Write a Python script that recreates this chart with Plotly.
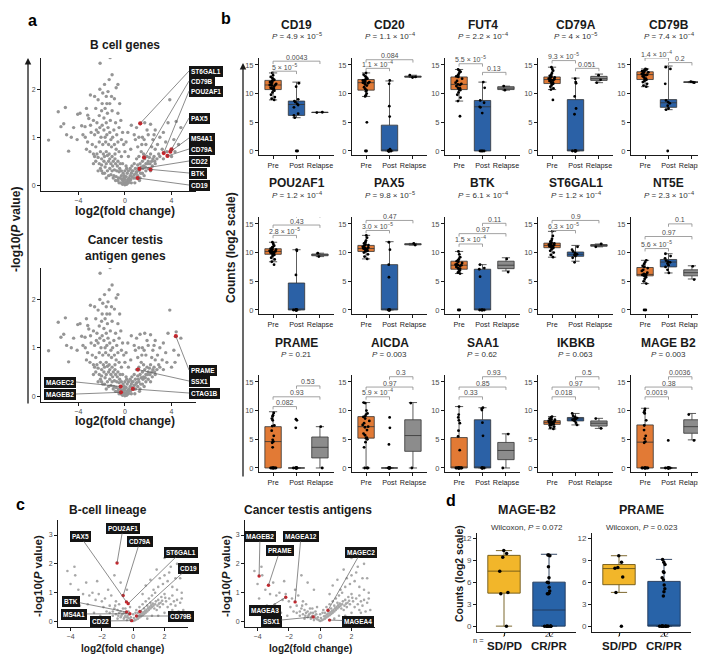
import plotly.graph_objects as go

W, H = 706, 655
FONT = "Liberation Sans, Arial, sans-serif"

# ---------------- panel a / c : volcano data (log2 fold change, -log10 P) ----------------
a_bg = [(-6.55, 0.94), (-5.72, 1.53), (-5.11, 1.62), (-5.49, 1.22), (-5.25, 1.28), (-4.83, 0.71),
        (-4.05, 1.48), (-3.19, 1.46), (-3.1, 1.39), (-3.71, 1.24), (-3.42, 1.22), (-3.6, 1.05),
        (-3.4, 1.0), (-2.13, 2.54), (-1.27, 2.66), (-1.1, 2.3), (-0.75, 2.03), (-1.9, 1.92),
        (-2.96, 1.88), (-1.6, 1.85), (-2.3, 1.78), (-1.45, 1.95), (-2.0, 1.55), (-2.5, 1.6),
        (-1.7, 1.6), (-1.3, 1.7), (-0.9, 1.8), (-2.2, 1.45), (-1.8, 1.4), (-1.5, 1.5), (-1.1, 1.55),
        (-2.7, 1.35), (-2.4, 1.3), (-1.95, 1.25), (-1.6, 1.3), (-1.25, 1.35), (-0.8, 1.3), (-0.6, 1.5),
        (-2.9, 1.1), (-2.6, 1.05), (-2.3, 1.1), (-2.05, 1.0), (-1.8, 1.15), (-1.55, 1.05), (-1.3, 1.1),
        (-1.05, 1.0), (-0.7, 1.05), (-2.8, 0.85), (-2.5, 0.8), (-2.2, 0.9), (-1.9, 0.85), (-1.65, 0.9),
        (-1.4, 0.85), (-1.15, 0.8), (-0.9, 0.85), (-0.6, 0.9), (-2.4, 0.65), (-2.1, 0.7), (-1.85, 0.65),
        (-1.6, 0.7), (-1.35, 0.65), (-1.1, 0.6), (-0.85, 0.65), (-0.5, 0.7), (-2.5, 0.5), (-2.2, 0.45),
        (-2.0, 0.55), (-1.8, 0.5), (-1.6, 0.45), (-1.4, 0.5), (-1.2, 0.45), (-1.0, 0.5), (-0.8, 0.45),
        (-0.6, 0.5), (-0.4, 0.45), (-2.1, 0.35), (-1.7, 0.38), (-1.5, 0.3), (-1.3, 0.35), (-1.1, 0.3),
        (-0.9, 0.32), (-0.7, 0.3), (-0.5, 0.28), (-0.3, 0.3), (-1.9, 0.25), (-1.2, 0.22), (-0.95, 0.2),
        (-0.75, 0.18), (-0.55, 0.15), (-0.4, 0.15), (-0.25, 0.12), (-0.15, 0.08), (-0.05, 0.05),
        (-0.6, 0.1), (-0.35, 0.05), (-0.2, 0.02), (0.0, 0.01), (0.05, 0.03), (0.1, 0.06), (0.15, 0.02),
        (0.2, 0.08), (0.25, 0.12), (0.3, 0.05), (0.35, 0.15), (0.4, 0.1), (0.45, 0.2), (0.5, 0.12),
        (0.55, 0.25), (0.6, 0.18), (-0.1, 0.15), (-0.05, 0.2), (0.1, 0.18), (0.2, 0.25), (0.0, 0.12),
        (0.7, 0.3), (0.8, 0.22), (0.9, 0.35), (1.0, 0.28), (1.1, 0.42), (1.2, 0.3), (1.3, 0.45),
        (1.4, 0.38), (1.5, 0.5), (1.6, 0.4), (1.7, 0.55), (1.8, 0.45), (1.9, 0.6), (2.0, 0.5),
        (2.1, 0.58), (2.2, 0.65), (2.3, 0.5), (2.4, 0.55), (2.5, 0.6), (2.6, 0.45), (1.0, 0.55),
        (1.2, 0.6), (1.4, 0.7), (1.6, 0.65), (0.8, 0.45), (0.6, 0.4), (0.9, 0.15), (1.1, 0.2),
        (1.3, 0.15), (1.5, 0.25), (1.8, 0.3), (2.0, 0.35), (1.3, 1.28), (1.7, 1.3), (2.2, 1.27),
        (1.5, 1.0), (2.0, 1.05), (2.4, 0.95), (2.8, 0.85), (3.0, 1.0), (2.6, 1.15), (3.2, 0.75),
        (3.5, 0.9), (3.3, 1.1), (2.9, 0.65), (3.85, 1.78), (4.4, 1.33), (4.8, 1.2), (3.7, 1.3),
        (4.2, 0.95), (4.6, 0.85), (0.9, 0.95), (1.1, 0.8), (1.8, 0.85), (0.5, 0.75), (0.3, 0.6),
        (-0.3, 0.6), (-0.2, 0.45), (0.1, 0.4), (-0.5, 1.2), (-0.3, 0.95), (0.0, 0.7),
        (-2.6, 0.6), (-2.3, 0.58), (-2.0, 0.42), (-1.75, 0.6), (-1.5, 0.62), (-1.3, 0.55), (-1.05, 0.4),
        (-0.85, 0.55), (-0.65, 0.4), (-0.45, 0.35), (-0.3, 0.2), (-0.15, 0.25), (0.0, 0.3), (0.15, 0.35),
        (0.3, 0.3), (0.45, 0.35), (0.6, 0.3), (0.75, 0.15), (0.95, 0.25), (1.15, 0.35), (1.35, 0.25),
        (1.55, 0.35), (1.75, 0.38), (1.95, 0.45), (2.15, 0.45), (2.35, 0.4), (2.55, 0.5), (2.75, 0.55),
        (2.2, 0.3), (1.65, 0.2), (1.25, 0.1), (0.85, 0.05), (0.55, 0.05), (-0.5, 0.05), (-0.8, 0.1),
        (-1.0, 0.15), (-1.4, 0.2), (-1.6, 0.15), (-1.75, 0.25), (-2.0, 0.3), (-2.3, 0.3), (-2.7, 0.45),
        (-3.0, 0.7), (-2.7, 0.65), (-3.2, 0.9), (-2.95, 1.25), (-3.3, 1.6), (-2.6, 1.85), (-2.15, 2.0),
        (-1.75, 2.1), (-1.35, 2.2), (-0.6, 2.1), (-0.45, 1.7), (-0.35, 1.35), (-0.2, 1.1), (-0.1, 0.85),
        (0.1, 0.9), (0.25, 1.1), (0.55, 1.25), (0.8, 1.05), (1.0, 1.2), (1.2, 1.0), (1.45, 0.85),
        (1.65, 0.95), (1.9, 1.15), (2.3, 0.8), (2.6, 0.75), (3.0, 0.6), (3.3, 0.55), (3.6, 0.7),
        (4.0, 0.6), (4.3, 0.7), (2.5, 1.05), (-4.4, 1.2), (-4.1, 0.95), (-3.85, 1.5), (-4.6, 1.0),
        (-5.0, 1.05), (-3.3, 0.75), (-1.95, 1.7), (-1.55, 1.7), (-1.15, 1.85), (-2.45, 1.15),
        (-1.7, 1.0), (-1.2, 0.95), (-0.95, 1.15), (-0.75, 0.75), (-2.15, 1.2), (-1.45, 1.2)]

a_bcell_genes = ["ST6GAL1", "CD79B", "POU2AF1", "PAX5", "MS4A1", "CD79A", "CD22", "BTK", "CD19"]
a_bcell_fc = [1.32, 1.64, 3.33, 4.0, 3.9, 3.65, 1.26, 2.2, 1.1]
a_bcell_p = [1.29, 0.58, 0.67, 0.75, 0.70, 0.61, 0.34, 0.33, 0.15]
a_cta_genes = ["PRAME", "SSX1", "CTAG1B", "MAGEC2", "MAGEB2"]
a_cta_fc = [4.37, 1.12, 0.69, -0.37, -0.34]
a_cta_p = [1.24, 0.55, 0.15, 0.2, 0.08]

c_bg = [(-4.2, 1.75), (-3.75, 1.9), (-3.7, 1.6), (-4.0, 1.3), (-3.5, 1.1), (-3.2, 0.95), (-3.9, 0.8),
        (-3.0, 1.35), (-2.8, 0.9), (-2.6, 1.0), (-2.4, 0.75), (-2.2, 0.95), (-2.9, 0.6), (-3.4, 0.55),
        (-2.0, 0.7), (-1.8, 0.8), (-1.6, 1.1), (-2.3, 1.4), (-1.4, 0.9), (-1.9, 0.5), (-1.5, 0.55),
        (-1.2, 0.45), (-1.0, 0.4), (-0.9, 0.3), (-0.8, 0.35), (-0.7, 0.25), (-0.6, 0.3), (-0.5, 0.2),
        (-0.4, 0.15), (-0.3, 0.12), (-0.2, 0.08), (-0.1, 0.05), (0.0, 0.02), (0.1, 0.04), (0.2, 0.07),
        (0.3, 0.1), (0.4, 0.14), (0.5, 0.18), (0.6, 0.22), (0.7, 0.26), (0.8, 0.3), (0.9, 0.35),
        (1.0, 0.4), (1.1, 0.45), (1.2, 0.5), (1.3, 0.55), (1.4, 0.6), (-0.8, 0.15), (-0.6, 0.1),
        (-0.4, 0.05), (0.3, 0.3), (0.5, 0.35), (0.7, 0.45), (0.9, 0.55), (1.1, 0.65), (0.4, 0.5),
        (0.6, 0.6), (0.8, 0.7), (1.0, 0.8), (1.2, 0.9), (1.4, 1.0), (1.6, 0.75), (1.8, 0.85),
        (2.0, 0.95), (1.5, 0.4), (1.7, 0.5), (1.9, 0.6), (2.1, 0.7), (2.3, 0.8), (2.5, 0.9),
        (2.2, 0.5), (2.4, 0.6), (2.6, 0.7), (2.8, 0.75), (3.0, 0.65), (1.3, 1.1), (1.6, 1.2),
        (1.9, 1.3), (2.2, 1.4), (2.5, 1.2), (2.8, 1.1), (3.1, 1.0), (1.7, 1.5), (2.0, 1.6),
        (2.3, 1.7), (2.7, 1.5), (3.0, 1.5), (2.0, 2.2), (2.8, 2.0), (1.5, 1.8), (2.4, 1.9),
        (-0.9, 0.6), (-1.1, 0.7), (-0.5, 0.45), (-0.3, 0.35), (0.0, 0.25), (0.2, 0.4), (-0.2, 0.5),
        (-1.3, 0.2), (-1.5, 0.3), (-1.7, 0.35), (-0.8, 1.35), (-1.2, 1.6), (-0.4, 1.1), (0.8, 1.25),
        (1.1, 1.45), (0.6, 0.95), (3.2, 0.4), (2.9, 0.35), (2.6, 0.3), (-2.5, 0.3), (-2.1, 0.2),
        (-1.0, 0.1), (0.9, 0.1), (1.2, 0.2), (1.6, 0.2), (2.0, 0.3),
        (-1.1, 0.25), (-0.95, 0.2), (-0.75, 0.2), (-0.55, 0.15), (-0.35, 0.2), (-0.15, 0.15), (0.05, 0.12),
        (0.25, 0.18), (0.45, 0.25), (0.65, 0.32), (0.85, 0.4), (1.05, 0.5), (1.25, 0.62), (1.45, 0.7),
        (1.65, 0.62), (1.85, 0.72), (2.05, 0.82), (0.35, 0.2), (0.55, 0.28), (0.75, 0.36), (0.95, 0.46),
        (1.15, 0.56), (1.35, 0.45), (1.55, 0.55), (1.75, 0.65), (-1.3, 0.35), (-1.15, 0.55),
        (-0.65, 0.45), (-0.45, 0.3), (-0.25, 0.25), (0.15, 0.3), (2.5, 0.4), (2.7, 0.55), (3.1, 0.8)]

c_bcell_genes = ["POU2AF1", "CD79A", "PAX5", "ST6GAL1", "CD19", "BTK", "MS4A1", "CD22", "CD79B"]
c_bcell_fc = [-1.03, -0.64, -0.43, -0.32, 0.43, -0.43, -0.21, -0.1, 0.21]
c_bcell_p = [2.03, 0.9, 0.68, 0.62, 0.35, 0.33, 0.27, 0.03, 0.19]
c_cta_genes = ["MAGEB2", "MAGEA12", "PRAME", "MAGEC2", "MAGEA3", "SSX1", "MAGEA4"]
c_cta_fc = [-3.9, -1.6, -3.3, 0.5, -2.2, -0.45, 0.6]
c_cta_p = [1.58, 0.68, 1.26, 0.39, 0.84, 0.16, 0.05]

# ---------------- panel b : counts (log2) by timepoint ----------------
genes = ["CD19", "CD20", "FUT4", "CD79A", "CD79B",
         "POU2AF1", "PAX5", "BTK", "ST6GAL1", "NT5E",
         "PRAME", "AICDA", "SAA1", "IKBKB", "MAGE B2"]
groups = ["Pre", "Post", "Relapse"]
p_overall = ["4.9e-5", "1.1e-4", "2.2e-4", "4e-5", "7.4e-4",
             "1.2e-4", "9.8e-5", "6.1e-4", "1.2e-4", "2.3e-4",
             "0.21", "0.003", "0.62", "0.063", "0.003"]
# pairwise: Pre-Post, Pre-Relapse, Post-Relapse
p_pairs = [["5e-5", "0.0043", "0.47"], ["1.1e-4", "0.084", "0.014"], ["5.5e-5", "0.52", "0.13"],
           ["9.3e-5", "0.9", "0.051"], ["1.4e-4", "0.18", "0.2"], ["2.8e-5", "0.43", "0.12"],
           ["3.0e-5", "0.47", "0.051"], ["1.5e-4", "0.97", "0.11"], ["6.3e-5", "0.9", "0.067"],
           ["5.6e-5", "0.97", "0.1"], ["0.082", "0.93", "0.53"], ["5.9e-4", "0.97", "0.3"],
           ["0.33", "0.85", "0.93"], ["0.018", "0.97", "0.5"], ["0.0019", "0.38", "0.0036"]]
bracket_y = [[13.9, 15.65, 17.4], [14.4, 15.9, 17.7], [15.2, 16.9, 13.7], [15.75, 17.5, 14.4],
             [16.2, 17.7, 15.4], [13.0, 14.8, 16.6], [13.85, 15.6, 17.3], [11.5, 13.3, 15.1],
             [13.85, 15.6, 17.3], [10.7, 12.8, 15.0], [10.7, 12.4, 14.3], [12.4, 14.1, 15.9],
             [12.4, 14.1, 15.9], [12.4, 14.1, 15.9], [12.4, 14.1, 15.9]]

# box statistics: lower whisker, q1, median, q3, upper whisker
pre_stats = [(8.9, 10.7, 11.5, 12.3, 13.6), (9.5, 10.6, 11.9, 12.45, 13.6), (8.7, 10.7, 11.6, 12.9, 14.2),
             (10.7, 11.75, 12.45, 12.9, 14.6), (11.2, 12.45, 13.3, 13.8, 14.3), (8.4, 9.7, 10.2, 10.67, 11.8),
             (8.9, 10.2, 10.7, 11.25, 13.0), (6.35, 7.1, 7.8, 8.5, 10.2), (9.2, 10.85, 11.25, 11.65, 13.7),
             (4.6, 5.95, 6.2, 7.4, 8.65), (0, 0, 4.6, 7.2, 9.8), (0, 5.2, 7.2, 8.95, 11.4),
             (0, 0, 0.1, 5.3, 10.7), (6.8, 7.6, 7.95, 8.25, 8.95), (0, 0, 4.5, 7.5, 10.4)]
post_stats = [(5.8, 6.2, 8.1, 8.7, 12.0), (0, 0, 0.1, 4.5, 12.2), (0, 0, 7.7, 8.8, 12.0),
              (0, 0, 0, 8.95, 12.7), (7.2, 7.6, 8.4, 8.95, 14.8), (0, 0, 0, 4.7, 10.5),
              (0, 0, 0, 7.9, 11.9), (0, 0, 0, 7.1, 7.9), (8.5, 9.35, 9.7, 10.1, 11.25),
              (6.45, 7.5, 8.35, 8.8, 9.8), (0, 0, 0, 0, 0), (0, 0, 0, 0, 0),
              (0, 0, 0, 8.4, 10.5), (7.5, 8.2, 8.55, 8.8, 9.5), (0, 0, 0, 0, 0)]
rel_stats = [(6.7, 6.7, 6.72, 6.75, 6.75), (12.8, 12.85, 12.95, 13.05, 13.2), (10.6, 10.7, 10.95, 11.2, 11.3),
             (11.9, 12.3, 12.6, 13.0, 13.4), (11.9, 11.95, 12.0, 12.05, 12.1), (9.3, 9.45, 9.6, 9.75, 9.9),
             (11.3, 11.35, 11.45, 11.55, 11.6), (6.8, 7.2, 7.8, 8.5, 9.1), (11.0, 11.1, 11.25, 11.4, 11.5),
             (5.4, 5.95, 6.5, 7.0, 7.7), (0, 1.75, 3.6, 5.4, 7.2), (0, 2.9, 5.65, 8.4, 11.4),
             (0, 1.45, 3.05, 4.45, 5.95), (6.9, 7.3, 7.8, 8.2, 8.65), (4.9, 6.05, 7.2, 8.4, 9.5)]

pre_pts = [
    [13.6, 13.2, 12.9, 12.7, 12.5, 12.4, 12.3, 12.2, 12.0, 11.9, 11.7, 11.6, 11.5, 11.5, 11.4, 11.2, 11.0, 10.9, 10.8, 10.7, 10.5, 10.2, 9.8, 9.4, 8.9, 9.1],
    [13.6, 13.3, 13.0, 12.8, 12.6, 12.5, 12.4, 12.3, 12.1, 12.0, 11.9, 11.9, 11.8, 11.6, 11.4, 11.1, 10.8, 10.6, 10.4, 10.0, 9.7, 9.5, 5.0, 0, 0],
    [14.2, 14.0, 13.8, 13.5, 13.2, 13.0, 12.9, 12.6, 12.2, 11.9, 11.7, 11.6, 11.5, 11.3, 11.0, 10.9, 10.7, 10.6, 10.2, 9.8, 9.3, 8.7, 6.05],
    [14.6, 14.3, 14.0, 13.6, 13.3, 13.1, 12.9, 12.8, 12.7, 12.6, 12.5, 12.4, 12.3, 12.2, 12.0, 11.9, 11.8, 11.7, 11.5, 11.2, 10.9, 10.7, 8.9],
    [14.3, 14.2, 14.1, 14.0, 13.9, 13.8, 13.7, 13.6, 13.4, 13.3, 13.3, 13.2, 13.0, 12.8, 12.6, 12.5, 12.4, 12.2, 12.0, 11.7, 11.4, 11.2],
    [11.8, 11.5, 11.2, 11.0, 10.9, 10.7, 10.6, 10.5, 10.4, 10.3, 10.2, 10.2, 10.1, 10.0, 9.9, 9.8, 9.7, 9.6, 9.4, 9.1, 8.8, 8.4, 7.9],
    [13.0, 12.6, 12.1, 11.8, 11.6, 11.4, 11.3, 11.2, 11.0, 10.9, 10.8, 10.7, 10.7, 10.6, 10.5, 10.4, 10.3, 10.2, 10.0, 9.7, 9.3, 8.9],
    [10.2, 9.7, 9.2, 8.9, 8.7, 8.5, 8.4, 8.2, 8.0, 7.9, 7.8, 7.8, 7.7, 7.5, 7.3, 7.2, 7.1, 6.9, 6.7, 6.5, 6.35, 0, 0],
    [13.7, 12.9, 12.4, 12.1, 11.9, 11.7, 11.6, 11.5, 11.4, 11.3, 11.3, 11.2, 11.1, 11.0, 10.9, 10.9, 10.8, 10.6, 10.3, 10.0, 9.6, 9.2],
    [8.65, 8.3, 8.0, 7.7, 7.5, 7.3, 7.0, 6.8, 6.5, 6.3, 6.2, 6.1, 6.0, 6.0, 5.9, 5.7, 5.4, 5.0, 4.6, 0, 0],
    [9.6, 9.2, 9.0, 8.6, 8.3, 7.4, 7.3, 6.5, 5.6, 4.9, 4.6, 4.4, 3.6, 0, 0, 0, 0, 0, 0, 0, 0],
    [11.4, 11.3, 10.0, 9.5, 9.3, 9.0, 8.9, 8.6, 8.2, 7.8, 7.5, 7.2, 7.1, 6.6, 6.0, 5.7, 5.3, 5.2, 5.0, 4.5, 3.6, 0, 0, 0],
    [10.7, 9.3, 8.8, 8.3, 7.8, 6.5, 5.5, 3.1, 0, 0, 0, 0, 0, 0, 0, 0, 0, 0, 0, 0],
    [8.95, 8.8, 8.6, 8.5, 8.4, 8.3, 8.2, 8.1, 8.0, 8.0, 7.9, 7.9, 7.8, 7.7, 7.6, 7.5, 7.4, 7.2, 7.0, 6.8],
    [10.3, 10.0, 9.7, 9.5, 8.3, 7.4, 6.6, 5.6, 5.1, 4.6, 4.4, 0, 0, 0, 0, 0, 0, 0, 0, 0]]
post_pts = [
    [11.8, 11.2, 9.0, 8.7, 8.5, 8.2, 8.0, 7.6, 6.5, 6.2, 5.8, 0, 0],
    [12.3, 11.7, 7.8, 6.0, 0.3, 0, 0, 0, 0, 0, 0, 0],
    [12.0, 11.0, 8.8, 8.4, 7.7, 7.6, 6.6, 0, 0, 0, 0],
    [12.6, 12.0, 11.8, 9.5, 7.4, 6.4, 0, 0, 0, 0, 0, 0],
    [14.6, 14.3, 11.7, 8.8, 8.5, 8.3, 7.9, 7.4, 7.2, 0],
    [10.5, 10.3, 6.1, 0, 0, 0, 0, 0, 0, 0, 0],
    [11.8, 10.5, 7.9, 5.7, 0, 0, 0, 0, 0, 0],
    [7.9, 7.3, 7.1, 5.8, 0, 0, 0, 0, 0],
    [11.0, 10.5, 10.2, 9.9, 9.7, 9.6, 9.4, 9.1, 8.3],
    [9.8, 9.4, 9.0, 8.6, 8.4, 8.3, 8.1, 7.8, 7.5, 7.0, 6.45],
    [8.5, 8.3, 7.0, 0, 0, 0, 0, 0, 0, 0, 0],
    [8.8, 7.0, 4.1, 0, 0, 0, 0, 0, 0, 0],
    [10.5, 10.3, 10.1, 7.9, 5.6, 0, 0, 0, 0, 0, 0],
    [9.5, 9.1, 8.9, 8.7, 8.6, 8.5, 8.4, 8.2, 7.9, 7.5],
    [4.8, 0, 0, 0, 0, 0, 0, 0, 0, 0]]
rel_pts = [[6.7, 6.75], [12.9, 13.2, 12.8], [11.3, 10.6], [13.2, 12.4, 11.9], [12.0, 11.9, 12.1],
           [9.9, 9.3], [11.6, 11.3], [8.9, 6.6], [11.5, 11.0], [7.6, 5.3],
           [7.2, 0], [11.3, 0], [5.9, 0], [8.6, 6.9], [9.3, 4.8]]

# ---------------- panel d : response groups ----------------
d_genes = ["MAGE-B2", "PRAME"]
d_groups = ["SD/PD", "CR/PR"]
d_n = ["7", "22"]
d_p = ["0.072", "0.023"]
d_sd_stats = [(0, 4.5, 7.5, 9.65, 10.3), (4.6, 5.65, 7.85, 8.4, 9.6)]
d_cr_stats = [(0, 0, 2.2, 6.0, 9.8), (0, 0, 0, 6.1, 9.1)]
d_sd_pts = [[10.3, 9.9, 9.4, 7.5, 4.6, 4.4, 0], [9.6, 8.7, 8.0, 7.9, 6.7, 4.6, 0]]
d_cr_pts = [[9.7, 9.7, 9.6, 8.1, 6.6, 6.0, 5.9, 5.3, 4.8, 4.5, 4.4, 4.4, 0, 0, 0, 0, 0, 0, 0, 0, 0, 0],
            [9.1, 8.7, 8.4, 7.4, 7.3, 6.6, 6.3, 5.6, 5.1, 4.7, 4.1, 0, 0, 0, 0, 0, 0, 0, 0, 0, 0, 0]]

# ---------------- helpers ----------------
fig = go.Figure()
axes_layout = {}
annotations = []
n_axes = 0

AX = dict(showline=True, linecolor="#1a1a1a", linewidth=1, ticks="outside", ticklen=3,
          tickwidth=1, tickcolor="#1a1a1a", showgrid=False, zeroline=False, fixedrange=True,
          tickfont=dict(size=7.5, color="#4d4d4d", family=FONT))


def new_axes(l, r, t, b, xkw, ykw):
    global n_axes
    n_axes += 1
    s = "" if n_axes == 1 else str(n_axes)
    axes_layout["xaxis" + s] = dict(AX, domain=[l / W, r / W], anchor="y" + s, **xkw)
    axes_layout["yaxis" + s] = dict(AX, domain=[1 - b / H, 1 - t / H], anchor="x" + s, **ykw)
    return "x" + s, "y" + s


def text(s, x, y, size, bold=False, color="#1a1a1a", angle=0, xanchor="center", yanchor="middle"):
    annotations.append(dict(text="<b>%s</b>" % s if bold else s, x=x / W, y=1 - y / H,
                            xref="paper", yref="paper", showarrow=False, textangle=angle,
                            font=dict(size=size, color=color, family=FONT),
                            xanchor=xanchor, yanchor=yanchor, borderpad=0))


def arrow(x, y_top, y_bot):
    annotations.append(dict(text="", x=x / W, y=1 - y_top / H, xref="paper", yref="paper",
                            showarrow=True, ax=0, ay=y_bot - y_top, arrowhead=2, arrowsize=1,
                            arrowwidth=1.3, arrowcolor="#1a1a1a"))


def pfmt(s):
    if "e" in s:
        m, e = s.split("e")
        return "%s × 10<sup>%s</sup>" % (m, e.replace("-", "−"))
    return s


def lin(p, p0, p1, r0, r1):
    return r0 + (p - p0) / (p1 - p0) * (r1 - r0)


def volcano(box, xr, yr, xt, yt, bg, msize, mcol, names, fc, lp, labels, tsize):
    l, r, t, b = box
    xa, ya = new_axes(l, r, t, b,
                      dict(range=xr, tickvals=xt, ticklen=2.5,
                           tickfont=dict(size=tsize, color="#4d4d4d", family=FONT)),
                      dict(range=yr, tickvals=yt, tickfont=dict(size=tsize, color="#4d4d4d", family=FONT)))
    fig.add_trace(go.Scatter(x=[p[0] for p in bg], y=[p[1] for p in bg], mode="markers",
                             marker=dict(size=msize, color=mcol), xaxis=xa, yaxis=ya, hoverinfo="skip"))
    fig.add_trace(go.Scatter(x=fc, y=lp, mode="markers", marker=dict(size=msize + 0.8, color="#c8242b"),
                             xaxis=xa, yaxis=ya, hoverinfo="skip"))
    for name, hx, hy, (lx, ly, anc) in zip(names, fc, lp, labels):
        annotations.append(dict(
            text="<b>%s</b>" % name, x=hx, y=hy, xref=xa, yref=ya, showarrow=True,
            ax=lin(lx, l, r, xr[0], xr[1]), ay=lin(ly, b, t, yr[0], yr[1]), axref=xa, ayref=ya,
            arrowhead=0, arrowwidth=0.7, arrowcolor="#5a5a5a", standoff=0,
            xanchor=anc, yanchor="middle", bgcolor="#141414", bordercolor="#141414", borderpad=1,
            font=dict(size=6.5, color="white", family=FONT)))
    return xa, ya


# ---------------- panel a ----------------
text("a", 24, 12, 16, bold=True, color="black")
text("B cell genes", 117, 37, 12, bold=True)
text("Cancer testis<br>antigen genes", 117, 240, 12, bold=True)
text("log2(fold change)", 117, 203, 12, bold=True)
text("log2(fold change)", 117, 413, 12, bold=True)
text("-log10(<i>P</i> value)", 8, 222, 12, bold=True, angle=-90)
arrow(20, 50, 397)

lab_a1 = [(181, 63, "left"), (181, 73, "left"), (181, 83, "left"), (181, 110, "left"), (181, 130, "left"),
          (181, 141, "left"), (181, 153, "left"), (181, 165, "left"), (181, 177, "left")]
volcano((33, 188, 50, 183), [-7.2, 6.1], [-0.12, 2.65], [-4, 0, 4], [0, 1, 2], a_bg, 3.4, "#959595",
        a_bcell_genes, a_bcell_fc, a_bcell_p, lab_a1, 7)
lab_a2 = [(181, 362, "left"), (181, 373, "left"), (181, 385, "left"), (68, 374, "right"), (68, 386, "right")]
volcano((33, 188, 260, 394), [-7.2, 6.1], [-0.12, 2.65], [-4, 0, 4], [0, 1, 2], a_bg, 3.4, "#959595",
        a_cta_genes, a_cta_fc, a_cta_p, lab_a2, 7)

# ---------------- panel b ----------------
text("b", 218, 10, 16, bold=True, color="black")
text("Counts (log2 scale)", 223, 240, 12, bold=True, angle=-90)
arrow(235, 55, 470)

col_x = [251, 344, 437, 530, 623]
row_t = [50, 209, 367]
title_y = [17, 175, 335]
fills = ["#e27a35", "#2b61a6", "#8c8c8c"]
pairs = [(0, 1), (0, 2), (1, 2)]
for i, gene in enumerate(genes):
    col, row = i % 5, i // 5
    l, t = col_x[col], row_t[row]
    xa, ya = new_axes(l, l + 75, t, t + 97,
                      dict(range=[-0.6, 2.6], tickvals=[0, 1, 2], ticktext=groups,
                           tickfont=dict(size=7.2, color="#1a1a1a", family=FONT)),
                      dict(range=[-0.7, 16.2], tickvals=[0, 5, 10, 15]))
    text(gene, l + 37.5, title_y[row], 12, bold=True)
    text("<i>P</i> = " + pfmt(p_overall[i]), l + 37.5, title_y[row] + 11.5, 8, color="#333333")
    for g, st in enumerate([pre_stats[i], post_stats[i], rel_stats[i]]):
        fig.add_trace(go.Box(x=[g], lowerfence=[st[0]], q1=[st[1]], median=[st[2]], q3=[st[3]],
                             upperfence=[st[4]], orientation="v", width=0.7, fillcolor=fills[g],
                             line=dict(color="#333333", width=0.8), boxpoints=False,
                             xaxis=xa, yaxis=ya, hoverinfo="skip"))
    xs, ys = [], []
    for g, pts in enumerate([pre_pts[i], post_pts[i], rel_pts[i]]):
        xs += [g] * len(pts)
        ys += pts
    fig.add_trace(go.Box(x=xs, y=ys, orientation="v", boxpoints="all", jitter=0.7, pointpos=0, width=0.45,
                         fillcolor="rgba(0,0,0,0)", line=dict(color="rgba(0,0,0,0)", width=0),
                         marker=dict(color="black", size=2.8), xaxis=xa, yaxis=ya, hoverinfo="skip"))
    bx, by = [], []
    for (g1, g2), h, lab in zip(pairs, bracket_y[i], p_pairs[i]):
        bx += [g1, g1, g2, g2, None]
        by += [h - 0.5, h, h, h - 0.5, None]
        annotations.append(dict(text=pfmt(lab), x=(g1 + g2) / 2, y=h, xref=xa, yref=ya, showarrow=False,
                                yanchor="bottom", yshift=-1.5, font=dict(size=7, color="#4d4d4d", family=FONT)))
    fig.add_trace(go.Scatter(x=bx, y=by, mode="lines", line=dict(color="#8a8a8a", width=0.8),
                             cliponaxis=False, xaxis=xa, yaxis=ya, hoverinfo="skip"))

# ---------------- panel c ----------------
text("c", 12, 497, 16, bold=True, color="black")
text("B-cell lineage", 100, 502, 12, bold=True)
text("Cancer testis antigens", 300, 502, 12, bold=True)
text("-log10(<i>P</i> value)", 30, 568, 11.5, bold=True, angle=-90)
text("-log10(<i>P</i> value)", 218, 568, 11.5, bold=True, angle=-90)
text("log2(fold change)", 115, 640, 10, bold=True)
text("log2(fold change)", 302, 640, 10, bold=True)

lab_c1 = [(115, 520, "center"), (132, 533, "center"), (72, 528, "center"), (173, 544, "center"),
          (180, 560, "center"), (63, 593, "center"), (66, 606, "center"), (92, 613, "center"),
          (173, 608, "center")]
volcano((50, 180, 512, 619), [-4.8, 3.5], [-0.19, 3.52], [-4, -2, 0, 2], [0, 1, 2, 3], c_bg, 2.6, "#a8a8a8",
        c_bcell_genes, c_bcell_fc, c_bcell_p, lab_c1, 7)
lab_c2 = [(252, 528, "center"), (293, 528, "center"), (272, 542, "center"), (353, 544, "center"),
          (257, 602, "center"), (263, 613, "center"), (350, 613, "center")]
volcano((237, 367, 512, 619), [-4.8, 3.5], [-0.19, 3.52], [-4, -2, 0, 2], [0, 1, 2, 3], c_bg, 2.6, "#a8a8a8",
        c_cta_genes, c_cta_fc, c_cta_p, lab_c2, 7)

# ---------------- panel d ----------------
text("d", 443, 492, 16, bold=True, color="black")
text("Counts (log2 scale)", 451, 566, 10.5, bold=True, angle=-90)
text("n =", 470, 632, 7.5, color="#333333")
d_cols = [(469, 568), (584, 683)]
d_fill = ["#f2b62a", "#2863a8"]
d_line = ["#6e5717", "#1f3556"]
for k, gene in enumerate(d_genes):
    l, r = d_cols[k]
    xa, ya = new_axes(l, r, 525, 624,
                      dict(range=[-0.6, 1.6], tickvals=[0, 1], showticklabels=False, ticklen=2.5),
                      dict(range=[-0.8, 12.7], tickvals=[0, 3, 6, 9, 12],
                           tickfont=dict(size=8, color="#4d4d4d", family=FONT)))
    cx = (l + r) / 2
    text(gene, cx, 502, 12.5, bold=True)
    text("Wilcoxon, <i>P</i> = " + d_p[k], cx, 519, 8, color="#333333")
    for g, st in enumerate([d_sd_stats[k], d_cr_stats[k]]):
        fig.add_trace(go.Box(x=[g], lowerfence=[st[0]], q1=[st[1]], median=[st[2]], q3=[st[3]],
                             upperfence=[st[4]], orientation="v", width=0.72, fillcolor=d_fill[g],
                             line=dict(color=d_line[g], width=0.9), boxpoints=False,
                             xaxis=xa, yaxis=ya, hoverinfo="skip"))
        annotations.append(dict(text=d_n[g], x=g, y=1 - 632 / H, xref=xa, yref="paper", borderpad=0,
                                showarrow=False, font=dict(size=7.5, color="#333333", family=FONT)))
        annotations.append(dict(text="<b>%s</b>" % d_groups[g], x=g, y=1 - 645 / H, xref=xa, yref="paper",
                                borderpad=0, showarrow=False, font=dict(size=11.5, color="#1a1a1a", family=FONT)))
    xs, ys = [], []
    for g, pts in enumerate([d_sd_pts[k], d_cr_pts[k]]):
        xs += [g] * len(pts)
        ys += pts
    fig.add_trace(go.Box(x=xs, y=ys, orientation="v", boxpoints="all", jitter=0.6, pointpos=0, width=0.45,
                         fillcolor="rgba(0,0,0,0)", line=dict(color="rgba(0,0,0,0)", width=0),
                         marker=dict(color="black", size=3.5), xaxis=xa, yaxis=ya, hoverinfo="skip"))

fig.update_layout(width=W, height=H, margin=dict(l=0, r=0, t=0, b=0), showlegend=False,
                  plot_bgcolor="white", paper_bgcolor="white", boxmode="overlay",
                  font=dict(family=FONT), annotations=annotations, **axes_layout)
fig.write_html("out.html")
